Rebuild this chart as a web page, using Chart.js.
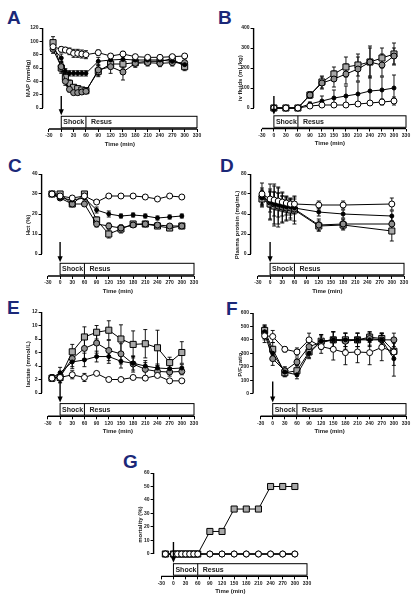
<!DOCTYPE html>
<html lang="en">
<head>
<meta charset="utf-8">
<title>Shock / resuscitation panels</title>
<script src="https://cdn.jsdelivr.net/npm/chart.js@4.4.0/dist/chart.umd.min.js"></script>
<style>
  body { margin: 0; background: #fff; }
  #fig { position: relative; width: 416px; height: 600px; overflow: hidden; }
  .letter { position: absolute; font: bold 19px Arial, "Liberation Sans", sans-serif; line-height: 19px; color: #1b2878; }
  canvas { position: absolute; }
</style>
</head>
<body>
<div id="fig"></div>
<script>
  // time axis
  const timeTicks = [-30, 0, 30, 60, 90, 120, 150, 180, 210, 240, 270, 300, 330];
  const phaseNames = ['Shock', 'Resus'];
  const phaseBounds = [0, 60, 330];

  // A - MAP
  const timesA = [-20, 0, 10, 20, 30, 40, 50, 60, 90, 120, 150, 180, 210, 240, 270, 300];
  const mapTicks = [0, 20, 40, 60, 80, 100, 120];
  const mapOpen = [92, 88, 87, 85, 82, 82, 81, 80, 83, 78, 81, 77, 76, 76, 77, 78];
  const mapOpenSd = [5, 4, 4, 5, 6, 6, 6, 6, 4, 3, 4, 3, 3, 3, 3, 3];
  const mapBlack = [90, 75, 55, 52, 52, 52, 52, 52, 70, 72, 73, 72, 72, 72, 70, 65];
  const mapBlackSd = [5, 6, 4, 4, 4, 4, 4, 4, 6, 5, 6, 5, 5, 5, 5, 6];
  const mapGrey = [88, 62, 40, 28, 23, 23, 24, 25, 57, 62, 54, 67, 68, 67, 68, 68];
  const mapGreySd = [6, 8, 6, 4, 3, 3, 3, 3, 8, 10, 12, 6, 5, 5, 5, 6];
  const mapSquare = [98, 60, 46, 37, 31, 29, 27, 26, 55, 66, 66, 68, 70, 70, 74, 62];
  const mapSquareSd = [9, 8, 6, 5, 4, 4, 3, 3, 8, 6, 6, 5, 5, 5, 5, 6];

  // B - iv fluids
  const timesB = [0, 30, 60, 90, 120, 150, 180, 210, 240, 270, 300];
  const fluidTicks = [0, 100, 200, 300, 400];
  const fluidOpen = [0, 0, 0, 10, 15, 15, 15, 20, 25, 30, 35];
  const fluidOpenSd = [0, 0, 0, 5, 8, 8, 8, 10, 12, 15, 20];
  const fluidBlack = [0, 0, 0, 20, 35, 50, 60, 70, 85, 90, 100];
  const fluidBlackSd = [0, 0, 0, 10, 25, 40, 50, 60, 70, 65, 65];
  const fluidGrey = [0, 0, 0, 65, 125, 145, 170, 195, 230, 215, 260];
  const fluidGreySd = [0, 0, 0, 15, 30, 40, 50, 60, 70, 55, 40];
  const fluidSquare = [0, 0, 0, 65, 130, 170, 205, 215, 230, 250, 270];
  const fluidSquareSd = [0, 0, 0, 15, 30, 35, 50, 55, 80, 50, 55];

  // C - Hct
  const timesC = [-20, 0, 30, 60, 90, 120, 150, 180, 210, 240, 270, 300];
  const hctTicks = [0, 10, 20, 30, 40];
  const hctOpen = [30, 29, 28, 29, 26, 29, 29, 29, 28.5, 27.5, 29, 28.5];
  const hctOpenSd = [1, 1, 1, 1, 1, 0.5, 0.5, 1, 0.5, 0.5, 0.5, 0.5];
  const hctBlack = [30, 28, 27, 28, 22, 20, 19, 19.5, 19, 18, 18.5, 19];
  const hctBlackSd = [1, 1, 1, 1, 1.5, 1.5, 1, 1, 1, 1, 1, 1];
  const hctGrey = [30, 28, 25, 25, 15, 14, 13, 14.5, 15, 14.5, 14, 14];
  const hctGreySd = [1, 1, 1, 1, 1.5, 1.5, 1.5, 1, 1, 1, 1, 1];
  const hctSquare = [30, 30, 25, 30, 17, 10, 12.5, 15, 15, 14, 13, 14];
  const hctSquareSd = [1, 1, 1, 1, 1.5, 2, 2, 1, 1, 1, 1, 1];

  // D - plasma protein
  const timesD = [-20, 0, 10, 20, 30, 40, 50, 60, 120, 180, 300];
  const protTicks = [0, 20, 40, 60, 80];
  const protOpen = [60, 55, 54, 53, 52, 51, 50, 50, 49, 49, 50];
  const protOpenSd = [11, 8, 8, 8, 6, 6, 5, 5, 4, 4, 6];
  const protBlack = [56, 52, 50, 49, 48, 47, 47, 46, 42, 40, 38];
  const protBlackSd = [8, 10, 12, 12, 10, 8, 8, 6, 4, 4, 5];
  const protGrey = [58, 52, 50, 48, 47, 46, 46, 45, 29, 30, 30];
  const protGreySd = [8, 18, 20, 18, 15, 12, 10, 12, 6, 5, 8];
  const protSquare = [55, 50, 48, 47, 46, 45, 44, 44, 28, 29, 23];
  const protSquareSd = [8, 15, 20, 20, 15, 12, 10, 14, 5, 5, 10];

  // E - lactate
  const timesE = [-20, 0, 30, 60, 90, 120, 150, 180, 210, 240, 270, 300];
  const lacTicks = [0, 2, 4, 6, 8, 10, 12];
  const lacOpen = [2.2, 2.3, 2.7, 2.3, 2.9, 2.0, 2.0, 2.3, 2.2, 2.6, 1.8, 1.8];
  const lacOpenSd = [0.5, 0.5, 0.6, 0.6, 0.2, 0.2, 0.2, 0.3, 0.3, 0.3, 0.2, 0.2];
  const lacBlack = [2.2, 3.0, 4.6, 4.9, 5.4, 5.4, 4.7, 4.4, 4.0, 3.7, 3.6, 3.7];
  const lacBlackSd = [0.5, 0.8, 1, 1, 0.8, 1, 1, 1, 0.8, 0.6, 0.5, 0.5];
  const lacGrey = [2.2, 2.4, 5.1, 6.6, 7.4, 6.3, 5.8, 4.3, 3.5, 3.2, 3.1, 3.2];
  const lacGreySd = [0.4, 0.8, 1.2, 1.5, 1.5, 1.5, 1.5, 1.2, 1, 0.8, 0.6, 0.5];
  const lacSquare = [2.2, 2.3, 6.1, 8.3, 9.0, 9.3, 8.0, 7.2, 7.3, 6.7, 4.5, 6.0];
  const lacSquareSd = [0.4, 0.8, 1.1, 1.5, 1.0, 1.4, 2.1, 2.0, 2.1, 2.6, 0.8, 1.6];

  // F - P/F ratio
  const timesF = [-20, 0, 30, 60, 90, 120, 150, 180, 210, 240, 270, 300];
  const pfTicks = [0, 100, 200, 300, 400, 500, 600];
  const pfOpen = [430, 425, 330, 310, 400, 350, 330, 305, 310, 305, 345, 310];
  const pfOpenSd = [50, 45, 20, 30, 50, 50, 80, 90, 80, 90, 100, 100];
  const pfBlack = [460, 300, 160, 140, 300, 390, 400, 400, 400, 400, 400, 260];
  const pfBlackSd = [50, 50, 30, 30, 40, 50, 60, 50, 50, 50, 50, 130];
  const pfGrey = [450, 260, 170, 235, 350, 380, 400, 390, 400, 410, 400, 400];
  const pfGreySd = [50, 50, 30, 30, 50, 50, 60, 60, 50, 50, 50, 50];
  const pfSquare = [470, 330, 155, 170, 310, 390, 400, 400, 400, 420, 410, 315];
  const pfSquareSd = [40, 50, 30, 40, 40, 50, 60, 50, 50, 40, 40, 60];

  // G - mortality
  const timesG = [-20, 0, 10, 20, 30, 40, 50, 60, 90, 120, 150, 180, 210, 240, 270, 300];
  const mortTicks = [0, 10, 20, 30, 40, 50, 60];
  const mortOpen = [0, 0, 0, 0, 0, 0, 0, 0, 0, 0, 0, 0, 0, 0, 0, 0];
  const mortBlack = [0, 0, 0, 0, 0, 0, 0, 0, 0, 0, 0, 0, 0, 0, 0, 0];
  const mortGrey = [0, 0, 0, 0, 0, 0, 0, 0, 0, 0, 0, 0, 0, 0, 0, 0];
  const mortSquare = [0, 0, 0, 0, 0, 0, 0, 0, 16.7, 16.7, 33.3, 33.3, 33.3, 50, 50, 50];

  // marker look per group: open circle, small black, grey circle, grey square
  const markers = [
    { style: 'circle', r: 3, fill: '#ffffff' },
    { style: 'circle', r: 2, fill: '#000000' },
    { style: 'circle', r: 3, fill: '#8f8f8f' },
    { style: 'rect', r: 4.3, fill: '#a8a8a8' }
  ];

  // panel layout (pixel positions of the axes in the figure)
  const panels = [
    { letter: 'A', lx: 7, ly: 7.5, yTitle: 'MAP (mmHg)', times: timesA, yTicks: mapTicks,
      vals: [mapOpen, mapBlack, mapGrey, mapSquare], sds: [mapOpenSd, mapBlackSd, mapGreySd, mapSquareSd],
      titleX: 29, axisX: 43, topY: 28, zeroY: 108, axisY: 129, m30X: 49.3, rightX: 197 },
    { letter: 'B', lx: 218, ly: 7.5, yTitle: 'iv fluids (mL/kg)', times: timesB, yTicks: fluidTicks,
      vals: [fluidOpen, fluidBlack, fluidGrey, fluidSquare], sds: [fluidOpenSd, fluidBlackSd, fluidGreySd, fluidSquareSd],
      titleX: 241, axisX: 254, topY: 28, zeroY: 108, axisY: 128.5, m30X: 262.3, rightX: 406.7 },
    { letter: 'C', lx: 8, ly: 155.5, yTitle: 'Hct (%)', times: timesC, yTicks: hctTicks,
      vals: [hctOpen, hctBlack, hctGrey, hctSquare], sds: [hctOpenSd, hctBlackSd, hctGreySd, hctSquareSd],
      titleX: 29, axisX: 42, topY: 174, zeroY: 254, axisY: 276, m30X: 48.3, rightX: 194 },
    { letter: 'D', lx: 220, ly: 155.5, yTitle: 'Plasma protein (mg/mL)', times: timesD, yTicks: protTicks,
      vals: [protOpen, protBlack, protGrey, protSquare], sds: [protOpenSd, protBlackSd, protGreySd, protSquareSd],
      titleX: 238, axisX: 251, topY: 174, zeroY: 254, axisY: 276, m30X: 258.3, rightX: 404 },
    { letter: 'E', lx: 7, ly: 297.5, yTitle: 'lactate (mmol/L)', times: timesE, yTicks: lacTicks,
      vals: [lacOpen, lacBlack, lacGrey, lacSquare], sds: [lacOpenSd, lacBlackSd, lacGreySd, lacSquareSd],
      titleX: 29, axisX: 42, topY: 311.7, zeroY: 392.7, axisY: 416, m30X: 48.3, rightX: 194 },
    { letter: 'F', lx: 226, ly: 299, yTitle: 'P/F ratio', times: timesF, yTicks: pfTicks,
      vals: [pfOpen, pfBlack, pfGrey, pfSquare], sds: [pfOpenSd, pfBlackSd, pfGreySd, pfSquareSd],
      titleX: 241, axisX: 253.5, topY: 312.7, zeroY: 393.3, axisY: 416, m30X: 261, rightX: 406.7 },
    { letter: 'G', lx: 123, ly: 452, yTitle: 'mortality (%)', times: timesG, yTicks: mortTicks,
      vals: [mortOpen, mortBlack, mortGrey, mortSquare], sds: null,
      titleX: 141, axisX: 154, topY: 473.3, zeroY: 554.3, axisY: 576.7, m30X: 161.7, rightX: 307.3 }
  ];

  const tickFont = { family: 'Arial, "Liberation Sans", sans-serif', size: 5, weight: 'bold' };
  const titleFont = { family: 'Arial, "Liberation Sans", sans-serif', size: 6, weight: 'bold' };

  // error bars drawn under the markers
  const errorBars = {
    id: 'errorBars',
    beforeDatasetsDraw(chart) {
      const ctx = chart.ctx, y = chart.scales.y;
      ctx.save();
      ctx.strokeStyle = '#000';
      ctx.lineWidth = 0.9;
      chart.data.datasets.forEach((ds, i) => {
        if (!ds.errors) return;
        chart.getDatasetMeta(i).data.forEach((pt, j) => {
          const e = ds.errors[j];
          if (!e) return;
          const v = ds.data[j].y;
          const t = y.getPixelForValue(v + e), b = y.getPixelForValue(v - e);
          ctx.beginPath();
          ctx.moveTo(pt.x, t); ctx.lineTo(pt.x, b);
          ctx.moveTo(pt.x - 2, t); ctx.lineTo(pt.x + 2, t);
          ctx.moveTo(pt.x - 2, b); ctx.lineTo(pt.x + 2, b);
          ctx.stroke();
        });
      });
      ctx.restore();
    }
  };

  // axis lines, shock/resus box and the arrow at t=0
  const frame = {
    id: 'frame',
    afterDraw(chart) {
      const { ctx, chartArea: a } = chart;
      const x = chart.scales.x, y = chart.scales.y;
      const top = y.getPixelForValue(y.max), zero = y.getPixelForValue(0);
      ctx.save();
      ctx.strokeStyle = '#000';
      ctx.lineWidth = 1.4;
      ctx.beginPath();
      ctx.moveTo(a.left, top); ctx.lineTo(a.left, zero);
      ctx.moveTo(x.getPixelForValue(timeTicks[0]), a.bottom); ctx.lineTo(a.right, a.bottom);
      ctx.stroke();

      const xs = phaseBounds.map(v => x.getPixelForValue(v));
      const bb = a.bottom - 1.2, bt = bb - 11.5;
      ctx.lineWidth = 1;
      ctx.strokeRect(xs[0], bt, xs[2] - xs[0], bb - bt);
      ctx.beginPath(); ctx.moveTo(xs[1], bt); ctx.lineTo(xs[1], bb); ctx.stroke();
      ctx.fillStyle = '#222';
      ctx.font = 'bold 7px Arial, "Liberation Sans", sans-serif';
      ctx.textBaseline = 'middle';
      ctx.fillText(phaseNames[0], xs[0] + 2, (bt + bb) / 2 + 0.5);
      ctx.fillText(phaseNames[1], xs[1] + 5, (bt + bb) / 2 + 0.5);

      // arrow
      const ax = x.getPixelForValue(0), ay0 = zero - 12, ay1 = bt - 1;
      ctx.lineWidth = 1.4;
      ctx.beginPath(); ctx.moveTo(ax, ay0); ctx.lineTo(ax, ay1 - 5); ctx.stroke();
      ctx.fillStyle = '#000';
      ctx.beginPath();
      ctx.moveTo(ax - 2.6, ay1 - 6); ctx.lineTo(ax + 2.6, ay1 - 6); ctx.lineTo(ax, ay1);
      ctx.closePath(); ctx.fill();
      ctx.restore();
    }
  };

  const fig = document.getElementById('fig');

  panels.forEach(p => {
    const lab = document.createElement('div');
    lab.className = 'letter';
    lab.style.left = p.lx + 'px';
    lab.style.top = p.ly + 'px';
    lab.textContent = p.letter;
    fig.appendChild(lab);

    const left = p.titleX - 3.6, top = p.topY - 6;
    const right = p.rightX + 9, bottom = p.axisY + 18.6;
    const cv = document.createElement('canvas');
    cv.width = Math.round(right - left);
    cv.height = Math.round(bottom - top);
    cv.style.left = left + 'px';
    cv.style.top = top + 'px';
    fig.appendChild(cv);

    const yMax = p.yTicks[p.yTicks.length - 1];
    const yMin = -yMax * (p.axisY - p.zeroY) / (p.zeroY - p.topY);
    const xMin = timeTicks[0] - (p.m30X - p.axisX) * 360 / (p.rightX - p.m30X);
    const yWidth = p.axisX - left;
    const xHeight = cv.height - (p.axisY - top);

    const datasets = p.vals.map((vals, k) => ({
      data: p.times.map((t, i) => ({ x: t, y: vals[i] })),
      errors: p.sds ? p.sds[k] : null,
      borderColor: '#000',
      borderWidth: 1,
      pointStyle: markers[k].style,
      pointRadius: markers[k].r,
      pointBackgroundColor: markers[k].fill,
      pointBorderColor: '#000',
      pointBorderWidth: 1,
      tension: 0
    }));

    new Chart(cv, {
      type: 'line',
      data: { datasets: datasets },
      options: {
        responsive: false,
        animation: false,
        layout: { padding: { top: 6, right: 9, left: 0, bottom: 0 } },
        plugins: { legend: { display: false }, tooltip: { enabled: false } },
        scales: {
          x: {
            type: 'linear', min: xMin, max: 330,
            afterBuildTicks: s => { s.ticks = timeTicks.map(v => ({ value: v })); },
            afterFit: s => { s.height = xHeight; },
            ticks: { autoSkip: false, maxRotation: 0, padding: 1, font: tickFont, color: '#222' },
            grid: { drawOnChartArea: false, tickLength: 3, color: '#000', lineWidth: 1 },
            border: { display: false },
            title: { display: true, text: 'Time (min)', font: titleFont, color: '#222', padding: 0 }
          },
          y: {
            type: 'linear', min: yMin, max: yMax,
            afterBuildTicks: s => { s.ticks = p.yTicks.map(v => ({ value: v })); },
            afterFit: s => { s.width = yWidth; },
            ticks: { autoSkip: false, padding: 1, font: tickFont, color: '#222' },
            grid: { drawOnChartArea: false, tickLength: 3, color: '#000', lineWidth: 1 },
            border: { display: false },
            title: { display: true, text: p.yTitle, font: titleFont, color: '#222', padding: 0 }
          }
        }
      },
      plugins: [errorBars, frame]
    });
  });
</script>
</body>
</html>
